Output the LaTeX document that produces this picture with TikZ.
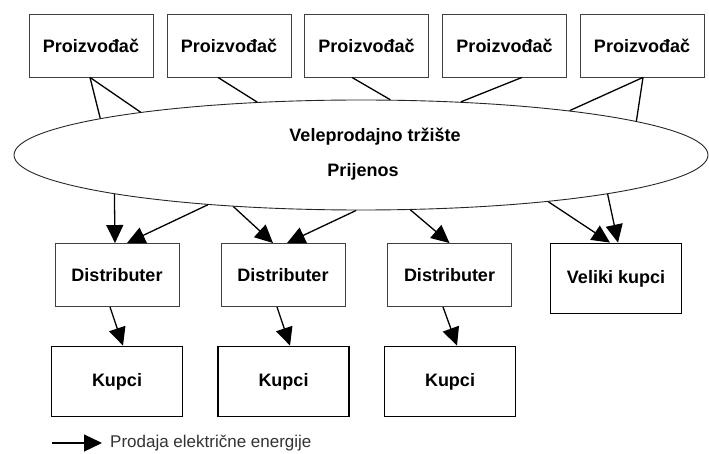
\documentclass[tikz,border=0pt]{standalone}
\usepackage{fontspec}
\setmainfont{Liberation Sans}
\usetikzlibrary{arrows.meta,shapes.geometric}

\begin{document}
\begin{tikzpicture}[x=1pt,y=-1pt,
    box/.style={draw=black!75,line width=0.9pt,minimum width=124pt,minimum height=63pt,inner sep=0pt,font=\fontsize{18}{21}\selectfont\bfseries},
    bigbox/.style={box,draw=black,line width=1.8pt,minimum width=131pt,minimum height=70pt},
    sale/.style={line width=1.3pt,-{Triangle[length=18pt,width=17pt]}},
    link/.style={line width=1.3pt}]
    \useasboundingbox (0,0) rectangle (709,454);

    % Draw the producers
    \node[box] (p1) at (91,45.5) {Proizvođač};
    \node[box] (p2) at (229,45.5) {Proizvođač};
    \node[box] (p3) at (366.5,45.5) {Proizvođač};
    \node[box] (p4) at (504.5,45.5) {Proizvođač};
    \node[box] (p5) at (642,45.5) {Proizvođač};

    % Draw the wholesale market
    \node[draw=black!85,line width=0.9pt,ellipse,minimum width=694pt,minimum height=110pt,inner sep=0pt] (mkt) at (361,155) {};
    \node[font=\fontsize{18}{21}\selectfont\bfseries] (mktA) at (375,137) {Veleprodajno tržište};
    \node[font=\fontsize{18}{21}\selectfont\bfseries] (mktB) at (363,172) {Prijenos};

    % Draw the distributers and the buyers
    \node[box] (d1) at (117,275) {Distributer};
    \node[box] (d2) at (283,275) {Distributer};
    \node[box] (d3) at (449.5,275) {Distributer};
    \node[bigbox] (vk) at (616,278.5) {Veliki kupci};
    \node[bigbox] (k1) at (117,381.5) {Kupci};
    \node[bigbox] (k2) at (283.5,381.5) {Kupci};
    \node[bigbox] (k3) at (450,381.5) {Kupci};

    % Producers to the market
    \draw[link] ([xshift=-1pt]p1.south) -- (mkt.172);
    \draw[link] ([xshift=-1pt]p1.south) -- (mkt.169.6);
    \draw[link] ([xshift=-11pt]p2.south) -- (mkt.153);
    \draw[link] ([xshift=-14.5pt]p3.south) -- (mkt.62);
    \draw[link] ([xshift=17.5pt]p4.south) -- (mkt.28.3);
    \draw[link] ([xshift=1pt]p5.south) -- (mkt.12);
    \draw[link] ([xshift=1pt]p5.south) -- (mkt.7.6);

    % Market to distributers and big buyers
    \draw[sale] (mkt.189.7) -- ([xshift=-2pt]d1.north);
    \draw[sale] (mkt.198.3) -- ([xshift=10pt]d1.north);
    \draw[sale] (mkt.202) -- ([xshift=-10pt]d2.north);
    \draw[sale] (mkt.265.8) -- ([xshift=4pt]d2.north);
    \draw[sale] (mkt.312.8) -- ([xshift=0pt]d3.north);
    \draw[sale] (mkt.346.6) -- ([xshift=-6pt]vk.north);
    \draw[sale] (mkt.351.4) -- ([xshift=2pt]vk.north);

    % Distributers to buyers
    \draw[sale] ([xshift=-7pt]d1.south) -- ([xshift=6pt]k1.north);
    \draw[sale] ([xshift=-6pt]d2.south) -- ([xshift=6.5pt]k2.north);
    \draw[sale] ([xshift=-6.5pt]d3.south) -- ([xshift=7pt]k3.north);

    % Legend
    \coordinate (lgS) at (52,443);
    \node[anchor=west,inner sep=0pt,text=black!80,font=\fontsize{17}{20}\selectfont] (lg) at (110,443) {Prodaja električne energije};
    \draw[sale] (lgS) -- ([xshift=-8pt]lg.west);
\end{tikzpicture}
\end{document}
